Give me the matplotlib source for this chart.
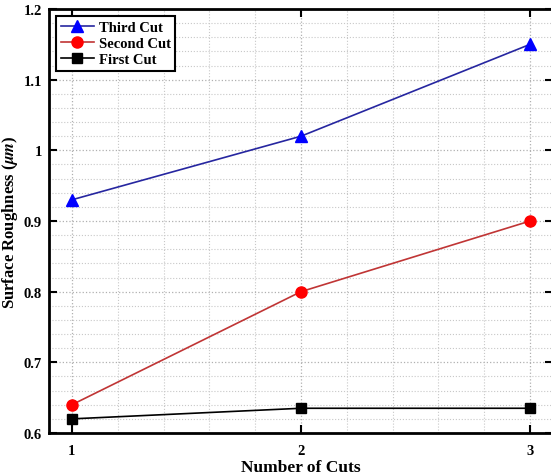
import matplotlib.pyplot as plt
import numpy as np
from matplotlib.ticker import MultipleLocator

plt.rcParams["font.family"] = "Liberation Serif"
plt.rcParams["font.weight"] = "bold"
plt.rcParams["mathtext.fontset"] = "stix"

cuts = [1, 2, 3]
third_cut = [0.93, 1.02, 1.15]
second_cut = [0.64, 0.80, 0.90]
first_cut = [0.62, 0.635, 0.635]

fig = plt.figure(figsize=(5.51, 4.77), dpi=100)
# axes runs a little past the right edge, as in the cropped original
ax = fig.add_axes([49/551, 43/477, 504/551, 424/477])

ax.plot(cuts, third_cut, color='#2626a0', lw=1.2, marker='^', ms=9,
        mfc='#0000ff', mec='#0000ff', label='Third Cut')
ax.plot(cuts, second_cut, color='#c03535', lw=1.2, marker='o', ms=8,
        mfc='#ff0000', mec='#ff0000', label='Second Cut')
ax.plot(cuts, first_cut, color='black', lw=1.2, marker='s', ms=7,
        mfc='black', mec='black', label='First Cut')

ax.set_xlim(0.9, 3.1)
ax.set_ylim(0.6, 1.2)
ax.xaxis.set_major_locator(MultipleLocator(1))
ax.xaxis.set_minor_locator(MultipleLocator(0.2))
ax.yaxis.set_major_locator(MultipleLocator(0.1))
ax.yaxis.set_minor_locator(MultipleLocator(0.02))
ax.set_yticks([0.6, 0.7, 0.8, 0.9, 1.0, 1.1, 1.2])
ax.set_yticklabels(['0.6', '0.7', '0.8', '0.9', '1', '1.1', '1.2'])

ax.grid(which='major', color='#b0b0b0', ls=':', lw=0.9)
ax.grid(which='minor', color='#c8c8c8', ls=':', lw=0.8)
ax.set_axisbelow(True)

ax.tick_params(which='major', direction='in', length=6, width=1.5,
               top=True, right=True, labelsize=10.5)
ax.tick_params(axis='x', pad=8)
ax.tick_params(axis='y', pad=5)
ax.tick_params(which='minor', length=0)
for s in ax.spines.values():
    s.set_linewidth(2)

ax.set_xlabel('Number of Cuts', fontsize=12.5, fontweight='bold')
ax.set_ylabel(r'Surface Roughness ($\mu m$)', fontsize=12, fontweight='bold')
ax.xaxis.set_label_coords(0.5, -0.062)
ax.yaxis.set_label_coords(-0.057, 0.5)

leg = ax.legend(loc='upper left', fontsize=10.5, fancybox=False, framealpha=1,
                edgecolor='black', borderaxespad=0.5, handlelength=2.3,
                handletextpad=0.3, borderpad=0.3, labelspacing=0.2)
leg.get_frame().set_linewidth(1.5)

fig.savefig('out.png', dpi=100)
